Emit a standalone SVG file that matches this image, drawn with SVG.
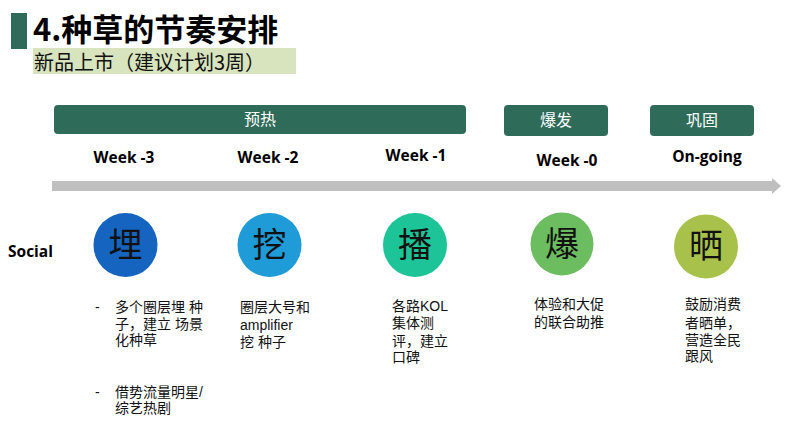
<svg xmlns="http://www.w3.org/2000/svg" width="800" height="424" viewBox="0 0 800 424">
<style>
.cj{font-family:"Noto Sans CJK SC",sans-serif}
.wk{font-family:"Open Sans","Liberation Sans",sans-serif;font-weight:bold;font-size:15.5px;text-anchor:middle}
.bar{fill:#2e6b59}
.bl{font-family:"Noto Sans CJK SC",sans-serif;fill:#fff;font-size:16px;text-anchor:middle}
.ch{font-family:"Noto Sans CJK SC",sans-serif;font-size:34px;text-anchor:middle;fill:#111}
.d{font-family:"Liberation Sans","Noto Sans CJK SC",sans-serif;font-size:14px;fill:#111}
</style>
<rect width="800" height="424" fill="#fff"/>
<g id="title">
<rect x="11" y="13" width="16" height="36" fill="#2e6b59"/>
<text x="33" y="41" class="cj" font-size="31" font-weight="bold" fill="#000">4.种草的节奏安排</text>
<rect x="33" y="48" width="263" height="26" fill="#d7e4bd"/>
<text x="34" y="70" class="cj" font-size="20" fill="#111">新品上市（建议计划3周）</text>
</g>
<g id="phases">
<g id="phase-yure"><rect class="bar" x="54" y="105" width="412" height="29" rx="4"/><text class="bl" x="260" y="125">预热</text></g>
<g id="phase-baofa"><rect class="bar" x="504" y="105" width="104" height="31" rx="4"/><text class="bl" x="556" y="126">爆发</text></g>
<g id="phase-gonggu"><rect class="bar" x="650" y="105" width="104" height="31" rx="4"/><text class="bl" x="702" y="126">巩固</text></g>
</g>
<g id="weeks">
<text class="wk" x="124" y="163">Week -3</text>
<text class="wk" x="268" y="163">Week -2</text>
<text class="wk" x="416" y="161">Week -1</text>
<text class="wk" x="567" y="166">Week -0</text>
<text class="wk" x="707" y="162">On-going</text>
</g>
<g id="connectors">
<path d="M52 181 H772 V178 L781 186 L772 194 V191 H52 Z" fill="#bfbfbf"/>
</g>
<text x="8" y="257" font-family="Open Sans,Liberation Sans,sans-serif" font-weight="bold" font-size="15.5">Social</text>
<g id="node-mai"><circle cx="125.5" cy="245" r="32" fill="#1565c0"/><text class="ch" x="125.5" y="257">埋</text></g>
<g id="node-wa"><circle cx="269.5" cy="245" r="32" fill="#1f9bd7"/><text class="ch" x="269.5" y="257">挖</text></g>
<g id="node-bo"><circle cx="415" cy="245" r="32" fill="#1dc498"/><text class="ch" x="415" y="257">播</text></g>
<g id="node-bao"><circle cx="562" cy="244" r="31.5" fill="#6cbd5f"/><text class="ch" x="562" y="256">爆</text></g>
<g id="node-shai"><circle cx="706" cy="246.5" r="32" fill="#a8c14a"/><text class="ch" x="706" y="258">晒</text></g>
<g id="desc">
<text class="d" x="95" y="312">-</text>
<text class="d" x="115" y="312">多个圈层埋 种</text>
<text class="d" x="115" y="329">子，建立 场景</text>
<text class="d" x="115" y="345">化种草</text>
<text class="d" x="95" y="397">-</text>
<text class="d" x="115" y="397">借势流量明星/</text>
<text class="d" x="115" y="413">综艺热剧</text>
<text class="d" x="240" y="312">圈层大号和</text>
<text class="d" x="240" y="330">amplifier</text>
<text class="d" x="240" y="347">挖 种子</text>
<text class="d" x="392" y="311">各路KOL</text>
<text class="d" x="392" y="328">集体测</text>
<text class="d" x="392" y="346">评，建立</text>
<text class="d" x="392" y="362">口碑</text>
<text class="d" x="534" y="309">体验和大促</text>
<text class="d" x="534" y="327">的联合助推</text>
<text class="d" x="685" y="309">鼓励消费</text>
<text class="d" x="685" y="328">者晒单，</text>
<text class="d" x="685" y="345">营造全民</text>
<text class="d" x="685" y="361">跟风</text>
</g>
</svg>
